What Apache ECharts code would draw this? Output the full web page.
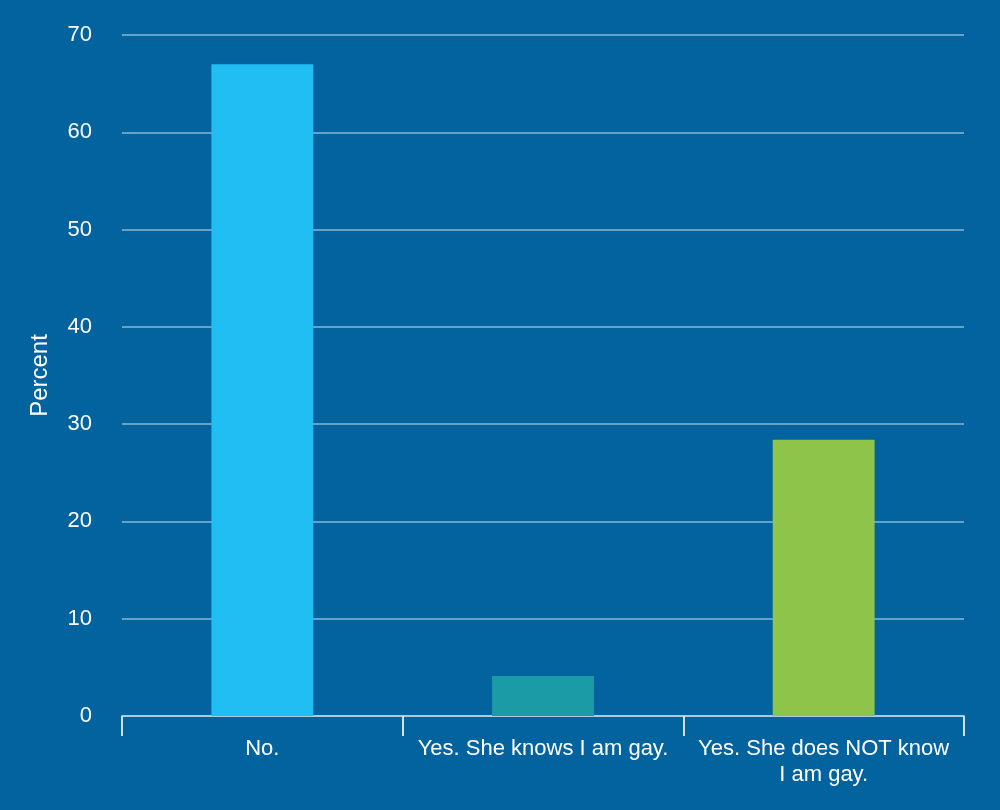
<!DOCTYPE html>
<html>
<head>
<meta charset="utf-8">
<script src="https://cdn.jsdelivr.net/npm/echarts@6/dist/echarts.min.js"></script>
<style>
html,body{margin:0;padding:0;background:#03639f;}
#chart{width:1000px;height:810px;}
</style>
</head>
<body>
<div id="chart"></div>
<script>
const categories = ["No.", "Yes. She knows I am gay.", "Yes. She does NOT know\nI am gay."];
const values = [67.0, 4.1, 28.4];
const barColors = ["#20bef2", "#1a9ba5", "#8fc44a"];
const yTicks = [0, 10, 20, 30, 40, 50, 60, 70];

const FONT = 'Liberation Sans, Arial, Helvetica, sans-serif';
const chart = echarts.init(document.getElementById('chart'));
chart.setOption({
  backgroundColor: '#03639f',
  animation: false,
  grid: {left: 122, right: 36, top: 35, bottom: 94},
  xAxis: {
    type: 'category',
    data: categories,
    axisLine: {lineStyle: {color: 'rgba(255,255,255,0.45)', width: 2}},
    axisTick: {show: true, interval: 0, length: 20, lineStyle: {color: '#d4e0ec', width: 2}},
    axisLabel: {interval: 0, color: '#ffffff', fontSize: 22, fontFamily: FONT, margin: 20, lineHeight: 26}
  },
  yAxis: {
    type: 'value',
    min: yTicks[0],
    max: yTicks[yTicks.length - 1],
    interval: 10,
    name: 'Percent',
    nameLocation: 'middle',
    nameGap: 70,
    nameRotate: 90,
    nameTextStyle: {color: '#ffffff', fontSize: 24, fontFamily: FONT},
    axisLine: {show: false},
    axisTick: {show: false},
    axisLabel: {color: '#ffffff', fontSize: 22, fontFamily: FONT, margin: 30, padding: [0, 0, 4, 0]},
    splitLine: {lineStyle: {color: 'rgba(255,255,255,0.4)', width: 2}}
  },
  series: [{
    type: 'bar',
    barWidth: '36.3%',
    data: values.map((v, i) => ({value: v, itemStyle: {color: barColors[i]}}))
  }]
});
</script>
</body>
</html>
